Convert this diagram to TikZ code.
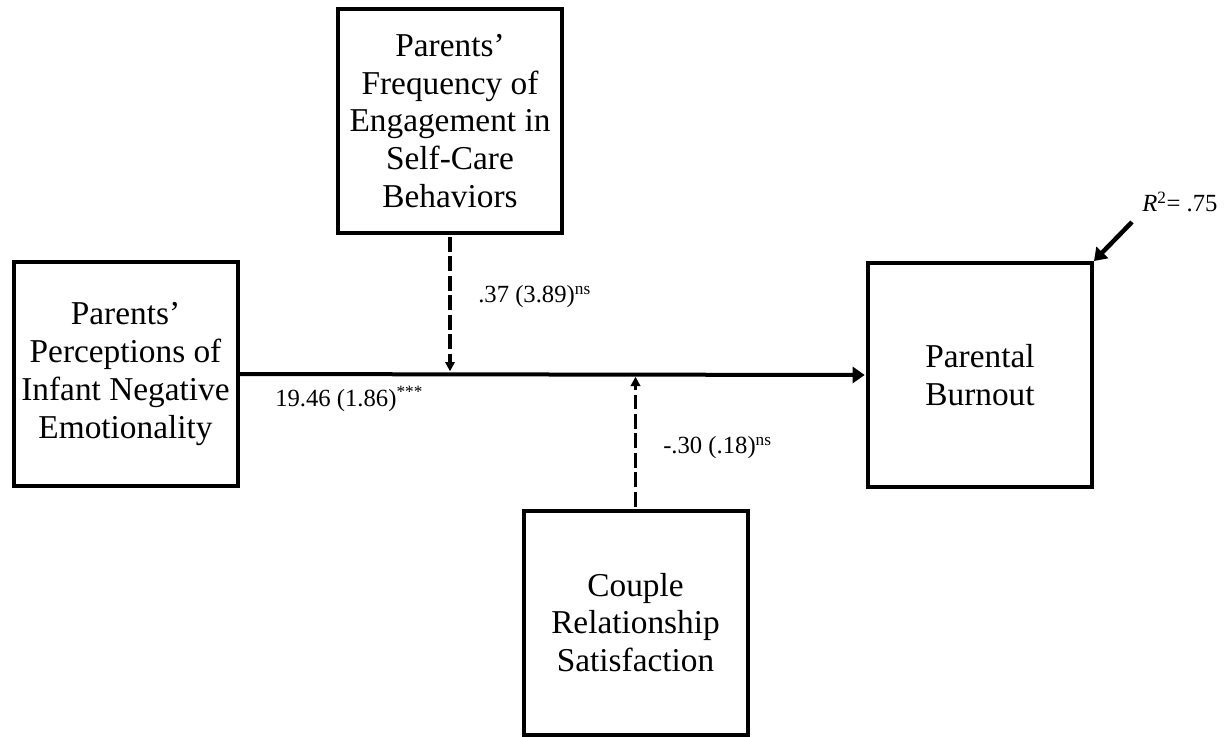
\documentclass[tikz,border=0pt]{standalone}
\usepackage{fontspec}
\setmainfont{Liberation Serif}
\usetikzlibrary{arrows.meta,positioning,calc}
\definecolor{ink}{HTML}{000000}
\definecolor{paper}{HTML}{FFFFFF}

\tikzset{
  varbox/.style={
    draw=ink,
    fill=paper,
    line width=3pt,
    minimum width=168pt,
    minimum height=168pt,
    align=center,
    text=ink,
    font=\fontsize{25}{28.3}\selectfont
  },
  coef/.style={
    text=ink,
    inner sep=0pt,
    font=\fontsize{18.5}{21}\selectfont
  },
  mainpath/.style={
    draw=ink,
    line width=3pt,
    -{Triangle[length=9pt,width=12pt]}
  },
  moderation/.style={
    draw=ink,
    line width=2.3pt,
    dash pattern=on 11pt off 3.6pt,
    -{Triangle[length=7pt,width=7pt]}
  }
}

\begin{document}
\begin{tikzpicture}[x=0.75pt,y=-0.75pt]
        \useasboundingbox (0,0) rectangle (1229,736);
        % variables
        \node[varbox] (emo) at (125.5,374) {Parents'\\Perceptions of\\Infant Negative\\Emotionality};
        \node[varbox] (care) at (450,121) {Parents'\\Frequency of\\Engagement in\\Self-Care\\Behaviors};
        \node[varbox] (couple) at (635.5,622.5) {Couple\\Relationship\\Satisfaction};
        \node[varbox] (burnout) at (980,375) {Parental\\Burnout};
        % main effect
        \draw[mainpath, shorten >=1pt] (emo.east) -- (burnout.west);
        % moderators
        \coordinate (careend) at (care.south |- emo.east);
        \coordinate (coupleend) at (couple.north |- emo.east);
        \draw[moderation, shorten <=1.5pt, shorten >=2pt] (care.south) -- (careend);
        \draw[moderation, shorten <=1.5pt, shorten >=2pt] (couple.north) -- (coupleend);
        % coefficients
        \node[coef, anchor=west] (emocoef) at (275,399) {19.46 (1.86)\textsuperscript{***}};
        \node[coef, anchor=west] (carecoef) at (478,297) {.37 (3.89)\textsuperscript{ns}};
        \node[coef, anchor=west] (couplecoef) at (663,448) {-.30 (.18)\textsuperscript{ns}};
        % explained variance
        \node[coef, anchor=west] (rsq) at (1142,202) {\textit{R}\textsuperscript{2}= .75};
        \coordinate (rsqtail) at (1132,222);
        \draw[mainpath, line width=3.4pt] (rsqtail) -- (burnout.north east);
      \end{tikzpicture}
\end{document}
